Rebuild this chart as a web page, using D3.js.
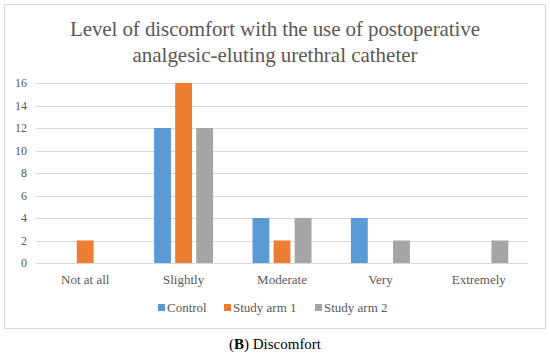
<!DOCTYPE html>
<html>
<head>
<meta charset="utf-8">
<script src="https://cdn.jsdelivr.net/npm/d3@7"></script>
<style>
  body { margin: 0; background: #fff; }
</style>
</head>
<body>
<svg id="chart" width="550" height="355"></svg>
<script>
const categories = ["Not at all", "Slightly", "Moderate", "Very", "Extremely"];
const seriesNames = ["Control", "Study arm 1", "Study arm 2"];
const control = [0, 12, 4, 4, 0];
const studyArm1 = [2, 16, 2, 0, 0];
const studyArm2 = [0, 12, 4, 2, 2];
const yTicks = [0, 2, 4, 6, 8, 10, 12, 14, 16];
const titleLines = ["Level of discomfort with the use of postoperative", "analgesic-eluting urethral catheter"];

const colors = ["#5B9BD5", "#ED7D31", "#A5A5A5"];
const seriesValues = [control, studyArm1, studyArm2];
const serif = '"Liberation Serif", "Times New Roman", serif';

const svg = d3.select("#chart");

// chart frame
svg.append("rect")
    .attr("x", 4.5).attr("y", 4.5)
    .attr("width", 541).attr("height", 324)
    .attr("fill", "#fff")
    .attr("stroke", "#d9d9d9");

// title (stretched a bit, the original has wide word gaps)
const titleWidths = [410, 285];
svg.selectAll(".title")
    .data(titleLines)
    .enter().append("text")
    .attr("class", "title")
    .attr("x", 275)
    .attr("y", (d, i) => 36 + i * 25.5)
    .attr("text-anchor", "middle")
    .attr("font-size", 21)
    .attr("textLength", (d, i) => titleWidths[i])
    .attr("lengthAdjust", "spacing")
    .attr("fill", "#595959")
    .style("font-family", serif)
    .text(d => d);

const margin = { top: 83, left: 36, right: 22, bottom: 92 };
const width = 550 - margin.left - margin.right;
const height = 355 - margin.top - margin.bottom;

const g = svg.append("g").attr("transform", `translate(${margin.left},${margin.top})`);

const x = d3.scaleBand().domain(categories).range([0, width]);
const xInner = d3.scaleBand().domain(seriesNames).range([0, 59]).paddingInner(0.2);
const y = d3.scaleLinear().domain([0, 16]).range([height, 0]);

// gridlines
g.selectAll(".grid")
    .data(yTicks)
    .enter().append("line")
    .attr("x1", 0).attr("x2", width)
    .attr("y1", d => Math.round(y(d)) + 0.5)
    .attr("y2", d => Math.round(y(d)) + 0.5)
    .attr("stroke", "#d9d9d9")
    .attr("stroke-width", 1);

// y axis labels
const yAxis = g.append("g")
    .call(d3.axisLeft(y).tickValues(yTicks).tickSize(0).tickPadding(9));
yAxis.select(".domain").remove();
yAxis.selectAll("text")
    .attr("font-size", 12)
    .attr("fill", "#595959")
    .style("font-family", serif);

// bars
const groups = g.selectAll(".group")
    .data(categories)
    .enter().append("g")
    .attr("transform", d => `translate(${x(d) + (x.bandwidth() - 59) / 2},0)`);

groups.selectAll("rect")
    .data((c, i) => seriesNames.map((s, k) => ({ s, k, v: seriesValues[k][i] })))
    .enter().append("rect")
    .attr("x", d => xInner(d.s))
    .attr("y", d => y(d.v))
    .attr("width", xInner.bandwidth())
    .attr("height", d => height - y(d.v))
    .attr("fill", d => colors[d.k]);

// x axis labels
const xAxis = g.append("g")
    .attr("transform", `translate(0,${height})`)
    .call(d3.axisBottom(x).tickSize(0).tickPadding(12));
xAxis.select(".domain").remove();
xAxis.selectAll("text")
    .attr("font-size", 13)
    .attr("fill", "#595959")
    .style("font-family", serif);

// legend
const legendX = [158, 224, 315];
const legend = svg.selectAll(".legend")
    .data(seriesNames)
    .enter().append("g")
    .attr("transform", (d, i) => `translate(${legendX[i]},308)`);
legend.append("rect")
    .attr("x", 0).attr("y", -4)
    .attr("width", 7).attr("height", 7)
    .attr("fill", (d, i) => colors[i]);
legend.append("text")
    .attr("x", 9).attr("y", 4)
    .attr("font-size", 13)
    .attr("fill", "#595959")
    .style("font-family", serif)
    .text(d => d);

// caption
const cap = svg.append("text")
    .attr("x", 275).attr("y", 349)
    .attr("text-anchor", "middle")
    .attr("font-size", 15)
    .attr("fill", "#000")
    .style("font-family", serif);
cap.append("tspan").text("(");
cap.append("tspan").attr("font-weight", "bold").text("B");
cap.append("tspan").text(") Discomfort");
</script>
</body>
</html>
